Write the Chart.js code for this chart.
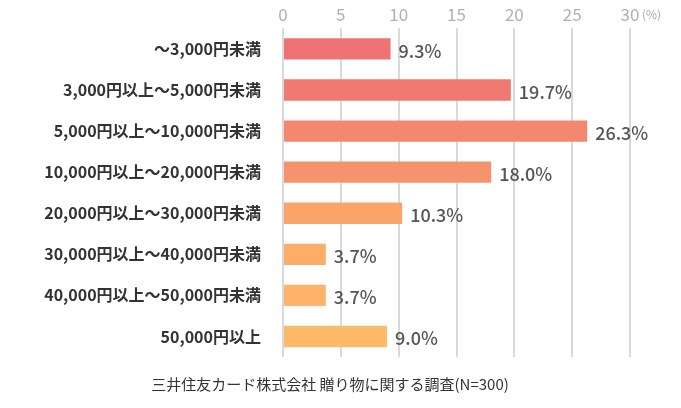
<!DOCTYPE html>
<html>
<head>
<meta charset="utf-8">
<script src="https://cdn.jsdelivr.net/npm/chart.js@4"></script>
<style>
  html, body { margin: 0; padding: 0; background: #fff; }
  #wrap { width: 681px; height: 408px; }
</style>
</head>
<body>
<div id="wrap"><canvas id="chart"></canvas></div>
<script>
const categories = [
  "～3,000円未満",
  "3,000円以上～5,000円未満",
  "5,000円以上～10,000円未満",
  "10,000円以上～20,000円未満",
  "20,000円以上～30,000円未満",
  "30,000円以上～40,000円未満",
  "40,000円以上～50,000円未満",
  "50,000円以上"
];
const shares = [9.3, 19.7, 26.3, 18.0, 10.3, 3.7, 3.7, 9.0];
const barColors = ["#ef7375", "#f07a72", "#f3876f", "#f5936c", "#fba46a", "#fcae69", "#fdb46a", "#fdbb6a"];
const sourceNote = "三井住友カード株式会社 贈り物に関する調査(N=300)";

const font = "'Noto Sans CJK JP', 'Noto Sans', sans-serif";

const extras = {
  id: "extras",
  afterDatasetsDraw(chart) {
    const ctx = chart.ctx;
    const meta = chart.getDatasetMeta(0);
    ctx.save();
    ctx.font = "500 18px " + font;
    ctx.fillStyle = "#555";
    ctx.textBaseline = "middle";
    ctx.textAlign = "left";
    meta.data.forEach((bar, i) => {
      ctx.fillText(shares[i].toFixed(1) + "%", bar.x + 8, bar.y + 2);
    });
    const x = chart.scales.x;
    ctx.font = "12px " + font;
    ctx.fillStyle = "#aaa";
    ctx.fillText("(%)", x.getPixelForValue(30) + 12, 14);
    ctx.font = "15px " + font;
    ctx.fillStyle = "#333";
    ctx.textAlign = "center";
    ctx.fillText(sourceNote, 330, 384);
    ctx.restore();
  }
};

new Chart(document.getElementById("chart"), {
  type: "bar",
  data: {
    labels: categories,
    datasets: [
      {
        data: shares,
        backgroundColor: barColors,
        barPercentage: 0.52,
        categoryPercentage: 1,
      },
    ],
  },
  options: {
    indexAxis: "y",
    responsive: true,
    maintainAspectRatio: false,
    animation: false,
    layout: { padding: { top: 0, right: 51, bottom: 51, left: 0 } },
    plugins: { legend: { display: false }, tooltip: { enabled: false } },
    scales: {
      x: {
        position: "top",
        min: 0,
        max: 30,
        ticks: { stepSize: 5, color: "#b0b0b0", font: { family: font, size: 17 }, padding: 4 },
        grid: { color: "#d9d9d9", lineWidth: 2, drawTicks: false },
        border: { display: false },
      },
      y: {
        afterFit(scale) { scale.width = 283; },
        ticks: { color: "#333", font: { family: font, size: 16, weight: "bold" }, padding: 14 },
        grid: { display: false },
        border: { display: false },
      },
    },
  },
  plugins: [extras],
});
</script>
</body>
</html>
